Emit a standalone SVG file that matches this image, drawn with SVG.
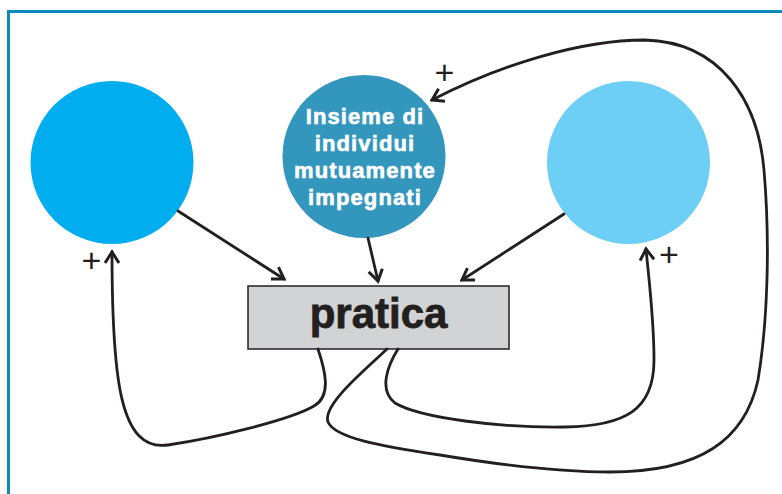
<svg xmlns="http://www.w3.org/2000/svg" width="782" height="494" viewBox="0 0 782 494">
<style>
.conn{fill:none;stroke:#231f20;stroke-width:2.8;stroke-linecap:round}
.lbl{font-family:"Liberation Sans",Arial,sans-serif;font-weight:bold;fill:#ffffff;stroke:#ffffff;stroke-width:0.6;font-size:22px;letter-spacing:1.1px;text-anchor:middle}
.plus{font-family:"Liberation Sans",Arial,sans-serif;fill:#231f20;font-size:34px;text-anchor:middle}
</style>
<defs>
<marker id="arr" markerUnits="userSpaceOnUse" markerWidth="30" markerHeight="30" refX="0" refY="0" viewBox="-15 -15 30 30" orient="auto" overflow="visible">
<path d="M-11,-7 L0,0 L-11,7" fill="none" stroke="#231f20" stroke-width="3" stroke-linejoin="miter" stroke-linecap="butt"/>
</marker>
</defs>
<rect x="0" y="0" width="782" height="494" fill="#ffffff"/>
<rect id="frame" x="8.5" y="11.5" width="800" height="520" fill="none" stroke="#0b8ac0" stroke-width="3"/>
<g id="node-left"><circle cx="112" cy="162.5" r="81.5" fill="#00adef"/></g>
<g id="node-middle">
<circle cx="364" cy="156.5" r="81.5" fill="#3396bd"/>
<text class="lbl" x="365" y="123.5">Insieme di</text>
<text class="lbl" x="365" y="150.5">individui</text>
<text class="lbl" x="365" y="178">mutuamente</text>
<text class="lbl" x="365" y="205">impegnati</text>
</g>
<g id="node-right"><circle cx="628.5" cy="162.5" r="81.5" fill="#6dcff6"/></g>
<g id="node-pratica">
<rect x="248" y="286" width="261" height="63" fill="#d1d3d4" stroke="#231f20" stroke-width="1.5"/>
<text x="378.5" y="328" font-family="'Liberation Sans',Arial,sans-serif" font-weight="bold" font-size="42" fill="#231f20" stroke="#231f20" stroke-width="0.8" text-anchor="middle">pratica</text>
</g>
<g id="connectors">
<path class="conn" d="M178,211 L284,279" marker-end="url(#arr)"/>
<path class="conn" d="M368,238 L378,281" marker-end="url(#arr)"/>
<path class="conn" d="M564,214 L462,280" marker-end="url(#arr)"/>
<path class="conn" d="M318,349 C325,370 332,396 314,406 C290,420 215,438 168,445 C120,452 112,380 112,252" marker-end="url(#arr)"/>
<path class="conn" d="M398,349 C388,365 378,390 395,403 C420,418 500,428 565,427 C625,426 654,410 654,360 C654,320 650,290 646,249" marker-end="url(#arr)"/>
<path class="conn" d="M387,349 C365,370 322,405 328,422 C335,438 380,446 440,455 C500,465 560,472 610,472 C700,472 745,440 758,380 C768,320 770,240 764,170 C758,100 720,42 645,40 C580,40 500,65 432,100" marker-end="url(#arr)"/>
</g>
<g id="signs">
<text class="plus" x="444.5" y="84">+</text>
<text class="plus" x="91.5" y="272">+</text>
<text class="plus" x="669" y="265.5">+</text>
</g>
</svg>
